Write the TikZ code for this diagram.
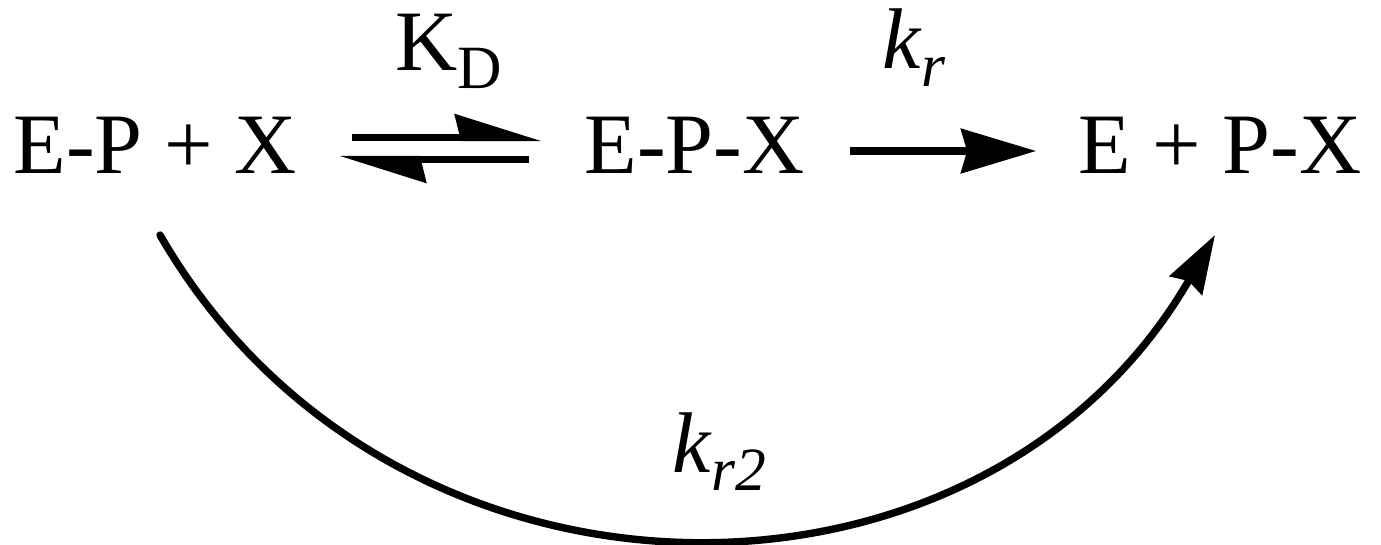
\documentclass[tikz,border=0pt]{standalone}
\usepackage{fontspec}
\setmainfont{Liberation Serif}
\usetikzlibrary{arrows.meta}

% subscript set low and small
\newcommand{\lowsub}[1]{\raisebox{-10.5pt}{\fontsize{35}{42}\selectfont #1}}

\begin{document}
\begin{tikzpicture}[every node/.style={inner sep=0pt, font=\fontsize{49}{58}\selectfont},
    reac/.style={line width=4.2pt},
    fwd/.style={reac, -{Stealth[length=1.5cm, width=0.88cm, inset=0.12cm]}},
    half/.style={reac, -{Stealth[harpoon, length=1.5cm, width=0.92cm, inset=0.1cm]}},
    bypass/.style={reac, line cap=round, -{Stealth[length=1.16cm, width=0.74cm, inset=0.1cm]}}]

    \useasboundingbox (0,0) rectangle (27.62,-10.88);

    % Especies
    \node[anchor=base] (epx) at (3.1,-3.46) {E-P + X};
    \node[anchor=base] (epxx) at (13.89,-3.46) {E-P-X};
    \node[anchor=base] (prod) at (24.4,-3.46) {E + P-X};

    % Constantes
    \node[anchor=base west] (kd) at (7.9,-1.4) {K\lowsub{D}};
    \node[anchor=base west] (kr) at (17.64,-1.36) {\textit{k}\lowsub{\textit{r}}};
    \node[anchor=base west] (krr) at (13.44,-9.44) {\textit{k}\lowsub{\textit{r2}}};

    % Equilibrio
    \draw[half, shorten <=1.1cm, shorten >=0.84cm] ([yshift=0.71cm]epx.base east) -- ([yshift=0.71cm]epxx.base west);
    \draw[half, shorten <=1.1cm, shorten >=0.84cm] ([yshift=0.27cm]epxx.base west) -- ([yshift=0.27cm]epx.base east);

    % Reaccion
    \draw[fwd, shorten <=0.9cm, shorten >=0.84cm] ([yshift=0.44cm]epxx.base east) -- ([yshift=0.44cm]prod.base west);

    % Via directa
    \draw[bypass] ([xshift=0.1cm,yshift=-1.24cm]epx.base) to[out=-60, in=-120, looseness=1.13] ([xshift=-0.1cm,yshift=-1.24cm]prod.base);

\end{tikzpicture}
\end{document}
